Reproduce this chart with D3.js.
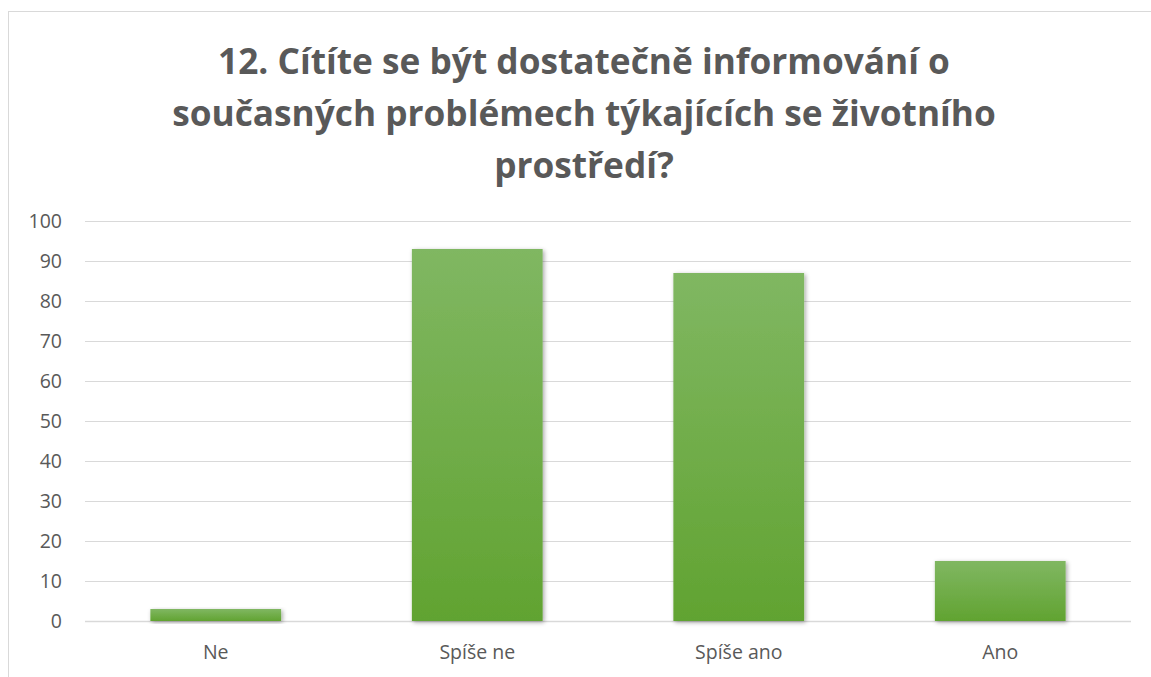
<!DOCTYPE html>
<html><head><meta charset="utf-8">
<script src="https://cdn.jsdelivr.net/npm/d3@7"></script>
<style>body{margin:0;background:#fff}svg{display:block}</style>
</head><body>
<script>
const categories = ["Ne", "Spíše ne", "Spíše ano", "Ano"];
const values = [3, 93, 87, 15];
const yTicks = [0, 10, 20, 30, 40, 50, 60, 70, 80, 90, 100];
const titleLines = ["12. Cítíte se být dostatečně informování o", "současných problémech týkajících se životního", "prostředí?"];

const W = 1151, H = 677;
const svg = d3.select("body").append("svg").attr("width", W).attr("height", H);
const defs = svg.append("defs");
const grad = defs.append("linearGradient").attr("id", "g").attr("x1", 0).attr("y1", 0).attr("x2", 0).attr("y2", 1);
grad.append("stop").attr("offset", "0%").attr("stop-color", "#80b762");
grad.append("stop").attr("offset", "100%").attr("stop-color", "#61a331");
const f = defs.append("filter").attr("id", "sh").attr("x", "-10%").attr("y", "-10%").attr("width", "130%").attr("height", "130%");
f.append("feDropShadow").attr("dx", 1.5).attr("dy", 1.5).attr("stdDeviation", 2).attr("flood-color", "#000").attr("flood-opacity", 0.35);

// frame
svg.append("rect").attr("x", 8.5).attr("y", 11.5).attr("width", W + 10).attr("height", H + 10)
  .attr("fill", "none").attr("stroke", "#d9d9d9").attr("stroke-width", 1);

const m = {left: 85, right: 20, top: 221, bottom: 56};
const x = d3.scaleBand().domain(categories).range([m.left, W - m.right]).paddingInner(0.5).paddingOuter(0.25);
const y = d3.scaleLinear().domain([0, 100]).range([H - m.bottom, m.top]);

// gridlines
svg.append("g").selectAll("line").data(yTicks).join("line")
  .attr("x1", m.left).attr("x2", W - m.right)
  .attr("y1", d => Math.round(y(d)) + 0.5).attr("y2", d => Math.round(y(d)) + 0.5)
  .attr("stroke", "#d9d9d9").attr("stroke-width", d => d === 0 ? 1.5 : 1);

// y axis labels
const yAxis = d3.axisLeft(y).tickValues(yTicks).tickSize(0).tickPadding(0);
const ya = svg.append("g").attr("transform", `translate(62,0)`).call(yAxis);
ya.select(".domain").remove();
ya.selectAll("text").attr("font-family", "Open Sans, sans-serif").attr("font-size", 19.5).attr("fill", "#595959");

// bars
svg.append("g").selectAll("rect").data(values).join("rect")
  .attr("x", (d, i) => x(categories[i])).attr("width", x.bandwidth())
  .attr("y", d => y(d)).attr("height", d => y(0) - y(d))
  .attr("fill", "url(#g)").attr("filter", "url(#sh)");

// x axis labels
const xAxis = d3.axisBottom(x).tickSize(0).tickPadding(0);
const xa = svg.append("g").attr("transform", `translate(0,${H - m.bottom + 24})`).call(xAxis);
xa.select(".domain").remove();
xa.selectAll("text").attr("font-family", "Open Sans, sans-serif").attr("font-size", 19.5).attr("fill", "#595959");

// title
const t = svg.append("g");
const tl = t.selectAll("text").data(titleLines).join("text")
  .attr("x", 584).attr("y", (d, i) => 74 + i * 52)
  .attr("text-anchor", "middle").attr("font-family", "Open Sans, sans-serif")
  .attr("font-weight", "bold").attr("font-size", 36).attr("fill", "#595959").text(d => d);
const w0 = tl.node().getComputedTextLength();
const fs = 36 * 732 / w0;
tl.attr("font-size", fs);
</script>
</body></html>
